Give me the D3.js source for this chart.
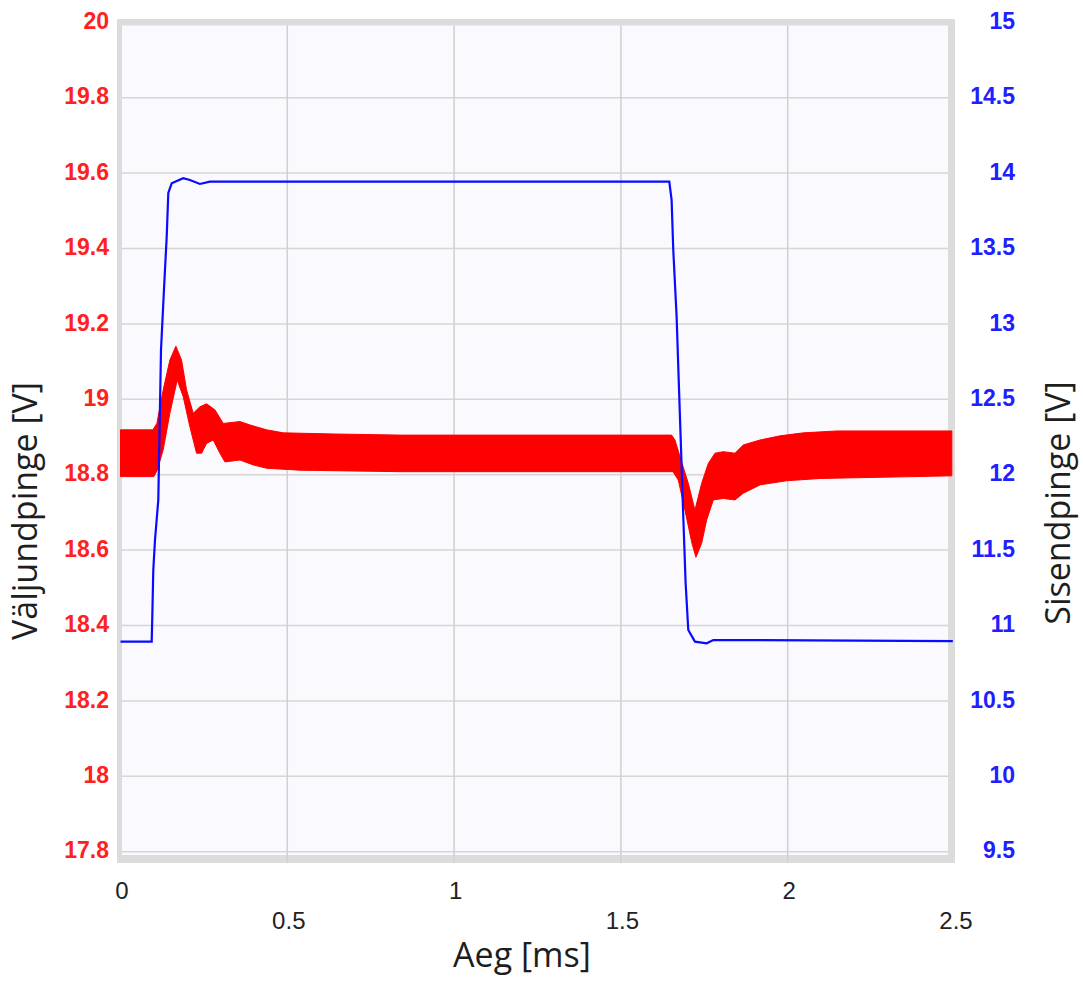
<!DOCTYPE html>
<html>
<head>
<meta charset="utf-8">
<script src="https://cdn.jsdelivr.net/npm/d3@7"></script>
<style>
  body { margin: 0; background: #fff; }
</style>
</head>
<body>
<div id="chart"></div>
<script>
// Tick values
const timeTicks = [0, 0.5, 1, 1.5, 2, 2.5];
const outTicks = [17.8, 18, 18.2, 18.4, 18.6, 18.8, 19, 19.2, 19.4, 19.6, 19.8, 20];
const inTicks = [9.5, 10, 10.5, 11, 11.5, 12, 12.5, 13, 13.5, 14, 14.5, 15];

// Output voltage band (red), time in ms, upper / lower envelope in V
const outTime  = [0, 0.097, 0.109, 0.128, 0.148, 0.166, 0.183, 0.198, 0.218, 0.238, 0.258, 0.283, 0.308, 0.358, 0.388, 0.438, 0.488, 0.637, 0.838, 1.652, 1.662, 1.682, 1.702, 1.722, 1.742, 1.762, 1.782, 1.807, 1.842, 1.867, 1.917, 1.977, 2.047, 2.147, 2.492];
const outUpper = [18.919, 18.919, 18.936, 19.025, 19.104, 19.141, 19.104, 19.025, 18.963, 18.980, 18.988, 18.972, 18.936, 18.941, 18.932, 18.919, 18.911, 18.908, 18.905, 18.905, 18.892, 18.834, 18.777, 18.706, 18.777, 18.830, 18.857, 18.861, 18.857, 18.879, 18.892, 18.903, 18.911, 18.916, 18.916];
const outLowTime = [0, 0.100, 0.110, 0.128, 0.148, 0.170, 0.188, 0.208, 0.228, 0.243, 0.258, 0.278, 0.298, 0.313, 0.358, 0.398, 0.438, 0.538, 0.838, 1.656, 1.672, 1.692, 1.713, 1.725, 1.742, 1.757, 1.777, 1.807, 1.842, 1.867, 1.917, 1.997, 2.097, 2.492];
const outLower = [18.795, 18.795, 18.812, 18.866, 18.963, 19.051, 19.007, 18.927, 18.857, 18.857, 18.883, 18.892, 18.857, 18.834, 18.839, 18.826, 18.817, 18.812, 18.808, 18.808, 18.786, 18.706, 18.618, 18.581, 18.618, 18.680, 18.733, 18.737, 18.733, 18.751, 18.773, 18.784, 18.790, 18.797];

// Input voltage (blue), time in ms, value in V
const inTime  = [0, 0.0935, 0.0953, 0.0983, 0.1034, 0.1133, 0.1214, 0.1313, 0.1385, 0.1433, 0.1535, 0.188, 0.208, 0.238, 0.268, 1.645, 1.652, 1.657, 1.667, 1.677, 1.687, 1.694, 1.702, 1.722, 1.757, 1.777, 2.495];
const inValue = [10.893, 10.893, 11.058, 11.368, 11.567, 11.832, 12.827, 13.271, 13.578, 13.868, 13.932, 13.966, 13.954, 13.928, 13.943, 13.943, 13.822, 13.490, 13.048, 12.385, 11.721, 11.282, 10.970, 10.893, 10.882, 10.904, 10.897];

const width = 1083;
const height = 981;
const plot = {left: 120.5, right: 954.5, top: 22.3, bottom: 851.7};

const svg = d3.select("#chart")
    .append("svg")
    .attr("width", width)
    .attr("height", height);

// Scales
const x = d3.scaleLinear().domain([0, 2.5]).range([plot.left, plot.right]);
const yOut = d3.scaleLinear().domain([17.8, 20]).range([plot.bottom, plot.top]);
const yIn = d3.scaleLinear().domain([9.5, 15]).range([plot.bottom, plot.top]);

// Frame and plot background
svg.append("rect")
    .attr("x", 117).attr("y", 19)
    .attr("width", 955 - 117).attr("height", 863 - 19)
    .attr("fill", "#dcdcdc");
svg.append("rect")
    .attr("x", 122).attr("y", 25.5)
    .attr("width", 948 - 122).attr("height", 855 - 25.5)
    .attr("fill", "#f9f9fe");

// Grid lines
svg.append("g")
    .selectAll("line")
    .data(outTicks.filter(d => d < 20))
    .enter()
    .append("line")
    .attr("x1", 122).attr("x2", 948)
    .attr("y1", d => yOut(d)).attr("y2", d => yOut(d))
    .attr("stroke", "#d6d6d6")
    .attr("stroke-width", 1.5);
svg.append("g")
    .selectAll("line")
    .data(timeTicks.filter(d => d > 0 && d < 2.5))
    .enter()
    .append("line")
    .attr("x1", d => x(d)).attr("x2", d => x(d))
    .attr("y1", 25.5).attr("y2", 863)
    .attr("stroke", "#d0d0d0")
    .attr("stroke-width", 1.5);

// Red output band: upper envelope forward, lower envelope back
const upperPts = outTime.map((t, i) => [t, outUpper[i]]);
const lowerPts = outLowTime.map((t, i) => [t, outLower[i]]);
const bandPath = d3.line().x(d => x(d[0])).y(d => yOut(d[1]));
svg.append("path")
    .attr("d", bandPath(upperPts.concat(lowerPts.slice().reverse())) + "Z")
    .attr("fill", "#ff0000")
    .attr("stroke", "#ff0000")
    .attr("stroke-width", 1);

// Blue input line
const inLine = d3.line()
    .x((d, i) => x(inTime[i]))
    .y(d => yIn(d));
svg.append("path")
    .datum(inValue)
    .attr("d", inLine)
    .attr("fill", "none")
    .attr("stroke", "#0a0aff")
    .attr("stroke-width", 2.2);

// Left axis labels
const fmt = d => String(+d.toFixed(1));
svg.append("g")
    .selectAll("text")
    .data(outTicks)
    .enter()
    .append("text")
    .attr("x", 109)
    .attr("y", d => yOut(d) - 1.5)
    .attr("dy", "0.36em")
    .attr("text-anchor", "end")
    .attr("font-family", "Liberation Sans, Arial, sans-serif")
    .attr("font-weight", "bold")
    .attr("font-size", 23)
    .attr("fill", "#ff2020")
    .text(fmt);

// Right axis labels
svg.append("g")
    .selectAll("text")
    .data(inTicks)
    .enter()
    .append("text")
    .attr("x", 1015)
    .attr("y", d => yIn(d) - 1.5)
    .attr("dy", "0.36em")
    .attr("text-anchor", "end")
    .attr("font-family", "Liberation Sans, Arial, sans-serif")
    .attr("font-weight", "bold")
    .attr("font-size", 23)
    .attr("fill", "#2020ff")
    .text(fmt);

// Bottom axis labels, staggered in two rows
svg.append("g")
    .selectAll("text")
    .data(timeTicks)
    .enter()
    .append("text")
    .attr("x", d => x(d) + 1.5)
    .attr("y", (d, i) => i % 2 === 0 ? 899 : 929)
    .attr("text-anchor", "middle")
    .attr("font-family", "Liberation Sans, Arial, sans-serif")
    .attr("font-size", 24)
    .attr("fill", "#222")
    .text(fmt);

// Axis titles
svg.append("text")
    .attr("x", 522)
    .attr("y", 967)
    .attr("text-anchor", "middle")
    .attr("font-family", "Open Sans, sans-serif")
    .attr("font-size", 34)
    .attr("fill", "#1e1e1e")
    .text("Aeg [ms]");

svg.append("text")
    .attr("transform", "translate(37,511) rotate(-90)")
    .attr("text-anchor", "middle")
    .attr("font-family", "Open Sans, sans-serif")
    .attr("font-size", 34)
    .attr("fill", "#1e1e1e")
    .text("Väljundpinge [V]");

svg.append("text")
    .attr("transform", "translate(1070,503) rotate(-90)")
    .attr("text-anchor", "middle")
    .attr("font-family", "Open Sans, sans-serif")
    .attr("font-size", 34)
    .attr("fill", "#1e1e1e")
    .text("Sisendpinge [V]");
</script>
</body>
</html>
